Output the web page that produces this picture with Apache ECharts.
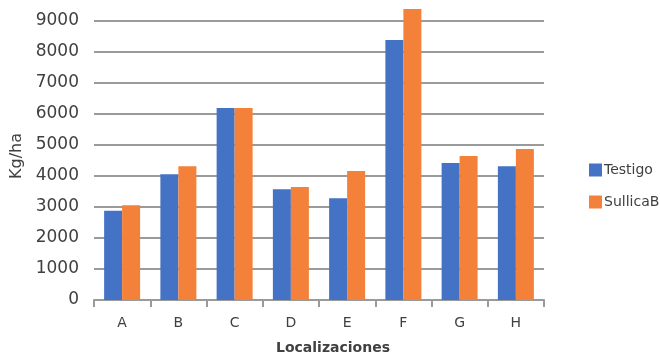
<!DOCTYPE html>
<html>
<head>
<meta charset="utf-8">
<script src="https://cdn.jsdelivr.net/npm/echarts@6/dist/echarts.min.js"></script>
<style>
  html, body { margin: 0; padding: 0; background: #fff; }
  #chart { width: 660px; height: 356px; }
</style>
</head>
<body>
<div id="chart"></div>
<script>
// Rendimiento por localización (Kg/ha)
const categories = ['A', 'B', 'C', 'D', 'E', 'F', 'G', 'H'];
const testigo   = [2870, 4050, 6180, 3570, 3280, 8370, 4410, 4310];
const sullicaB  = [3050, 4310, 6180, 3640, 4150, 9370, 4640, 4860];
const seriesNames = ['Testigo', 'SullicaB'];

const FONT = '"DejaVu Sans", "Noto Sans", sans-serif';
const TEXT = '#404040';
const GRID = '#9a9a9a';

const chart = echarts.init(document.getElementById('chart'), null, { renderer: 'canvas' });

chart.setOption({
  animation: false,
  textStyle: { fontFamily: FONT },
  grid: {
    left: 94, right: 116, top: 0, bottom: 56,
    containLabel: false,
    outerBoundsMode: 'none'
  },
  legend: {
    orient: 'vertical',
    left: 589,
    top: 163,
    padding: 0,
    itemWidth: 13,
    itemHeight: 13,
    itemGap: 18,
    icon: 'rect',
    textStyle: { fontFamily: FONT, fontSize: 14, color: TEXT, padding: [0, 0, 0, -3] },
    data: seriesNames
  },
  xAxis: {
    type: 'category',
    data: categories,
    name: 'Localizaciones',
    nameLocation: 'middle',
    nameGap: 41,
    nameTextStyle: {
      fontFamily: FONT, fontSize: 14, fontWeight: 'bold', color: TEXT,
      padding: [0, 0, 0, 28]
    },
    axisLine: { show: true, lineStyle: { color: GRID, width: 2 } },
    axisTick: { show: true, alignWithLabel: false, length: 7, lineStyle: { color: GRID, width: 2 } },
    axisLabel: { fontFamily: FONT, fontSize: 14, color: TEXT, margin: 16 },
    splitLine: { show: false }
  },
  yAxis: {
    type: 'value',
    min: 0,
    max: 9660,
    interval: 1000,
    name: 'Kg/ha',
    nameLocation: 'middle',
    nameGap: 62,
    nameRotate: 90,
    nameTextStyle: { fontFamily: FONT, fontSize: 16, color: TEXT, padding: [0, 12, 0, 0] },
    axisLine: { show: false },
    axisTick: { show: false },
    axisLabel: {
      fontFamily: FONT, fontSize: 17, color: TEXT, margin: 15,
      showMaxLabel: false,
      formatter: v => String(v)
    },
    splitLine: { show: true, showMaxLine: false, lineStyle: { color: GRID, width: 2 } }
  },
  series: [
    {
      name: seriesNames[0],
      type: 'bar',
      data: testigo,
      barGap: '0%',
      barCategoryGap: '36%',
      itemStyle: { color: '#4472c4' }
    },
    {
      name: seriesNames[1],
      type: 'bar',
      data: sullicaB,
      barGap: '0%',
      barCategoryGap: '36%',
      itemStyle: { color: '#f4813a' }
    }
  ]
});
</script>
</body>
</html>
